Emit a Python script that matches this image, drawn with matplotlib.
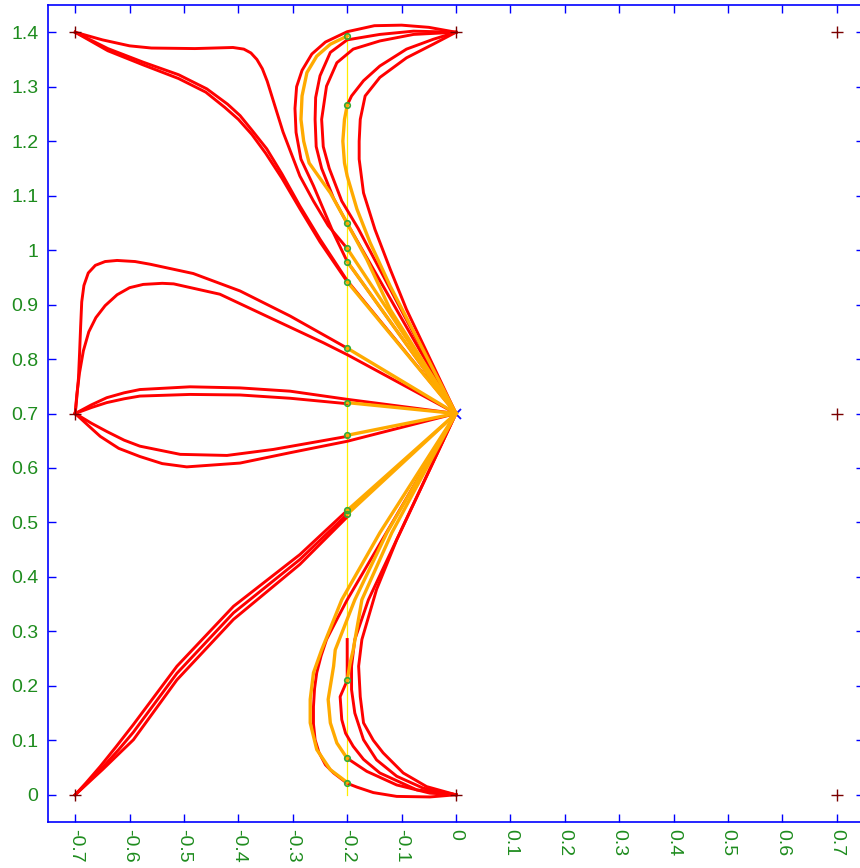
import matplotlib
matplotlib.use("Agg")
import matplotlib.pyplot as plt

plt.rcParams['font.family'] = ['Liberation Sans', 'DejaVu Sans']

# tick positions / labels
x_ticks = [-0.7, -0.6, -0.5, -0.4, -0.3, -0.2, -0.1, 0, 0.1, 0.2, 0.3, 0.4, 0.5, 0.6, 0.7]
x_labels = ['-0.7', '-0.6', '-0.5', '-0.4', '-0.3', '-0.2', '-0.1', '0',
            '0.1', '0.2', '0.3', '0.4', '0.5', '0.6', '0.7']
y_ticks = [0, 0.1, 0.2, 0.3, 0.4, 0.5, 0.6, 0.7, 0.8, 0.9, 1.0, 1.1, 1.2, 1.3, 1.4]
y_labels = ['0', '0.1', '0.2', '0.3', '0.4', '0.5', '0.6', '0.7', '0.8', '0.9',
            '1', '1.1', '1.2', '1.3', '1.4']

# start / goal points
start_x = [-0.7, -0.7, -0.7, 0, 0, 0.7, 0.7, 0.7]
start_y = [0, 0.7, 1.4, 0, 1.4, 0, 0.7, 1.4]
goal = (0, 0.7)

# via line and the points picked on it
via_x = -0.2
via_span = [0.0, 1.394]
via_pts = [1.394, 1.266, 1.049, 1.003, 0.979, 0.942, 0.82, 0.72, 0.66,
           0.522, 0.515, 0.21, 0.067, 0.022]

# red trajectories
a1 = [(-0.7, 1.4), (-0.65, 1.386), (-0.6, 1.375), (-0.56, 1.371), (-0.48, 1.37),
      (-0.41, 1.372), (-0.39, 1.369), (-0.377, 1.362), (-0.366, 1.35), (-0.356, 1.333),
      (-0.347, 1.31), (-0.333, 1.265), (-0.318, 1.217), (-0.3, 1.17), (-0.287, 1.136),
      (-0.262, 1.09), (-0.235, 1.045), (-0.2, 1.003)]
a2 = [(-0.7, 1.4), (-0.64, 1.37), (-0.575, 1.345), (-0.51, 1.322), (-0.458, 1.296),
      (-0.42, 1.268), (-0.397, 1.247), (-0.375, 1.22), (-0.348, 1.186), (-0.32, 1.14),
      (-0.287, 1.081), (-0.25, 1.02), (-0.2, 0.944), (0, 0.7)]
a3 = [(-0.7, 1.4), (-0.64, 1.366), (-0.575, 1.34), (-0.51, 1.315), (-0.46, 1.29),
      (-0.425, 1.262), (-0.4, 1.24), (-0.375, 1.212), (-0.35, 1.178), (-0.32, 1.132),
      (-0.287, 1.076), (-0.25, 1.015), (-0.2, 0.942)]
b1 = [(0, 1.4), (-0.05, 1.409), (-0.1, 1.413), (-0.15, 1.412), (-0.2, 1.401),
      (-0.24, 1.382), (-0.265, 1.36), (-0.283, 1.33), (-0.293, 1.3), (-0.296, 1.26),
      (-0.294, 1.216), (-0.285, 1.167), (-0.262, 1.118), (-0.226, 1.033), (-0.2, 0.979),
      (0, 0.7)]
b3 = [(0, 1.4), (-0.078, 1.402), (-0.14, 1.396), (-0.2, 1.386), (-0.231, 1.363),
      (-0.25, 1.32), (-0.258, 1.28), (-0.259, 1.24), (-0.257, 1.19), (-0.247, 1.15),
      (-0.225, 1.095), (-0.2, 1.049), (0, 0.7)]
b4 = [(0, 1.4), (-0.078, 1.396), (-0.14, 1.384), (-0.189, 1.369), (-0.219, 1.344),
      (-0.238, 1.301), (-0.247, 1.24), (-0.244, 1.19), (-0.233, 1.15), (-0.21, 1.09),
      (-0.18, 1.04), (0, 0.7)]
b6 = [(0, 1.4), (-0.042, 1.387), (-0.091, 1.369), (-0.14, 1.338), (-0.17, 1.311),
      (-0.192, 1.283), (-0.2, 1.266)]
b7 = [(0, 1.4), (-0.042, 1.378), (-0.091, 1.353), (-0.14, 1.317), (-0.167, 1.283),
      (-0.176, 1.24), (-0.178, 1.2), (-0.178, 1.167), (-0.17, 1.105), (-0.149, 1.038),
      (-0.121, 0.965), (-0.091, 0.891), (0, 0.7)]
m1 = [(-0.7, 0.7), (-0.697, 0.73), (-0.694, 0.765), (-0.692, 0.81), (-0.69, 0.86),
      (-0.688, 0.905), (-0.684, 0.935), (-0.676, 0.958), (-0.663, 0.972), (-0.645, 0.979),
      (-0.623, 0.981), (-0.59, 0.979), (-0.562, 0.974), (-0.483, 0.957), (-0.397, 0.925),
      (-0.305, 0.879), (-0.2, 0.82)]
m2 = [(-0.7, 0.7), (-0.697, 0.735), (-0.692, 0.775), (-0.685, 0.815), (-0.675, 0.85),
      (-0.662, 0.876), (-0.645, 0.898), (-0.623, 0.918), (-0.6, 0.931), (-0.575, 0.937),
      (-0.54, 0.939), (-0.519, 0.938), (-0.434, 0.919), (-0.336, 0.873), (-0.244, 0.83),
      (-0.2, 0.808), (0, 0.7)]
m3 = [(-0.7, 0.7), (-0.67, 0.716), (-0.642, 0.729), (-0.61, 0.738), (-0.581, 0.744),
      (-0.489, 0.749), (-0.397, 0.747), (-0.305, 0.741), (-0.2, 0.726), (0, 0.7)]
m4 = [(-0.7, 0.7), (-0.67, 0.711), (-0.642, 0.72), (-0.61, 0.727), (-0.581, 0.732),
      (-0.489, 0.735), (-0.397, 0.734), (-0.305, 0.728), (-0.2, 0.718)]
m5 = [(-0.7, 0.7), (-0.67, 0.682), (-0.642, 0.667), (-0.61, 0.651), (-0.581, 0.64),
      (-0.507, 0.625), (-0.421, 0.623), (-0.336, 0.634), (-0.2, 0.658)]
m6 = [(-0.7, 0.7), (-0.675, 0.677), (-0.654, 0.658), (-0.62, 0.636), (-0.581, 0.621),
      (-0.54, 0.608), (-0.495, 0.602), (-0.397, 0.609), (-0.305, 0.628), (-0.2, 0.649),
      (0, 0.7)]
l1 = [(-0.7, 0), (-0.68, 0.022), (-0.654, 0.052), (-0.625, 0.088), (-0.593, 0.129),
      (-0.513, 0.236), (-0.409, 0.346), (-0.287, 0.441), (-0.2, 0.522)]
l2 = [(-0.7, 0), (-0.675, 0.024), (-0.65, 0.05), (-0.62, 0.083), (-0.593, 0.115),
      (-0.513, 0.223), (-0.409, 0.334), (-0.287, 0.432), (-0.2, 0.515)]
l3 = [(-0.7, 0), (-0.65, 0.046), (-0.593, 0.101), (-0.513, 0.211), (-0.409, 0.322),
      (-0.287, 0.423), (-0.2, 0.51)]
d1 = [(0, 0), (-0.048, -0.004), (-0.109, -0.003), (-0.152, 0.004), (-0.182, 0.014),
      (-0.2, 0.021), (-0.225, 0.04), (-0.24, 0.055), (-0.252, 0.078), (-0.259, 0.101),
      (-0.262, 0.13), (-0.262, 0.162), (-0.26, 0.195), (-0.256, 0.224), (-0.248, 0.255),
      (-0.238, 0.285), (-0.22, 0.32), (-0.2, 0.358), (0, 0.7)]
d3 = [(0, 0), (-0.048, 0.003), (-0.109, 0.018), (-0.164, 0.043), (-0.2, 0.067)]
dv = [(0, 0), (-0.072, 0.009), (-0.14, 0.04), (-0.17, 0.065), (-0.189, 0.089),
      (-0.203, 0.113), (-0.21, 0.138), (-0.213, 0.18), (-0.2, 0.21), (-0.2, 0.285)]
d4 = [(0, 0), (-0.06, 0.012), (-0.109, 0.034), (-0.146, 0.064), (-0.17, 0.101),
      (-0.186, 0.15), (-0.192, 0.193), (-0.192, 0.236), (-0.186, 0.285), (-0.161, 0.358),
      (0, 0.7)]
d5 = [(0, 0), (-0.054, 0.015), (-0.097, 0.04), (-0.134, 0.077), (-0.152, 0.1),
      (-0.17, 0.132), (-0.176, 0.18), (-0.179, 0.236), (-0.173, 0.285), (-0.146, 0.377),
      (-0.109, 0.468), (0, 0.7)]
red_paths = [a1, a2, a3, b1, b3, b4, b6, b7, m1, m2, m3, m4, m5, m6,
             l1, l2, l3, d1, d3, dv, d4, d5]

# orange segments from the via points on to the goal
o_top = [(-0.2, 1.393), (-0.231, 1.378), (-0.256, 1.356), (-0.274, 1.326), (-0.283, 1.283),
         (-0.285, 1.24), (-0.28, 1.2), (-0.27, 1.16), (-0.231, 1.105), (-0.2, 1.049),
         (-0.164, 0.983), (-0.121, 0.891), (0, 0.7)]
o_mid = [(-0.2, 1.266), (-0.205, 1.24), (-0.208, 1.2), (-0.205, 1.16), (-0.2, 1.136),
         (-0.182, 1.075), (-0.158, 1.014), (-0.121, 0.934), (0, 0.7)]
o_low0 = [(-0.2, 0.0226), (-0.231, 0.046), (-0.256, 0.083), (-0.268, 0.132), (-0.268, 0.175),
          (-0.262, 0.224), (-0.247, 0.266), (-0.21, 0.358), (-0.14, 0.481), (0, 0.7)]
o_low1 = [(-0.2, 0.0667), (-0.219, 0.095), (-0.231, 0.132), (-0.235, 0.175), (-0.225, 0.236),
          (-0.222, 0.266), (-0.186, 0.358), (-0.127, 0.481), (0, 0.7)]
o_low2 = [(-0.2, 0.21), (-0.195, 0.24), (-0.189, 0.266), (-0.173, 0.358), (-0.118, 0.481),
          (0, 0.7)]
o_straight = [1.003, 0.979, 0.942, 0.82, 0.72, 0.66, 0.522, 0.515]
orange_paths = [o_top, o_mid, o_low0, o_low1, o_low2] + \
    [[(via_x, y0), goal] for y0 in o_straight]

fig = plt.figure(figsize=(8.6, 8.68), dpi=100)
ax = fig.add_axes([48 / 860, 46 / 868, 816 / 860, 817 / 868])

ax.plot([via_x, via_x], via_span, color='#ffee00', lw=0.9, zorder=1)

for p in red_paths:
    ax.plot([q[0] for q in p], [q[1] for q in p], color='#ff0000', lw=2.1,
            solid_joinstyle='round', zorder=2)
for p in orange_paths:
    ax.plot([q[0] for q in p], [q[1] for q in p], color='#ffaa00', lw=2.4,
            solid_joinstyle='round', zorder=3)

ax.plot([via_x] * len(via_pts), via_pts, 'o', ms=4, mfc='none', mec='#33aa33',
        mew=1.2, zorder=4)
ax.plot(start_x, start_y, '+', color='#7a0000', ms=9, mew=1.0, zorder=5)
ax.plot([goal[0]], [goal[1]], 'x', color='#1010ff', ms=7, mew=1.3, zorder=1.5)

ax.set_xlim(-0.75, 0.75)
ax.set_ylim(-0.05, 1.45)
ax.set_xticks(x_ticks)
ax.set_xticklabels(x_labels)
ax.set_yticks(y_ticks)
ax.set_yticklabels(y_labels)

for s in ax.spines.values():
    s.set_color('#0000ff')
    s.set_linewidth(1.2)
ax.tick_params(direction='in', length=6, width=1.0, color='#0000ff',
               top=True, right=True, labelcolor='#1e8c1e', labelsize=14)
ax.tick_params(axis='x', labelrotation=-90, pad=5)
ax.tick_params(axis='y', pad=7)

plt.savefig('out.png', dpi=100)
